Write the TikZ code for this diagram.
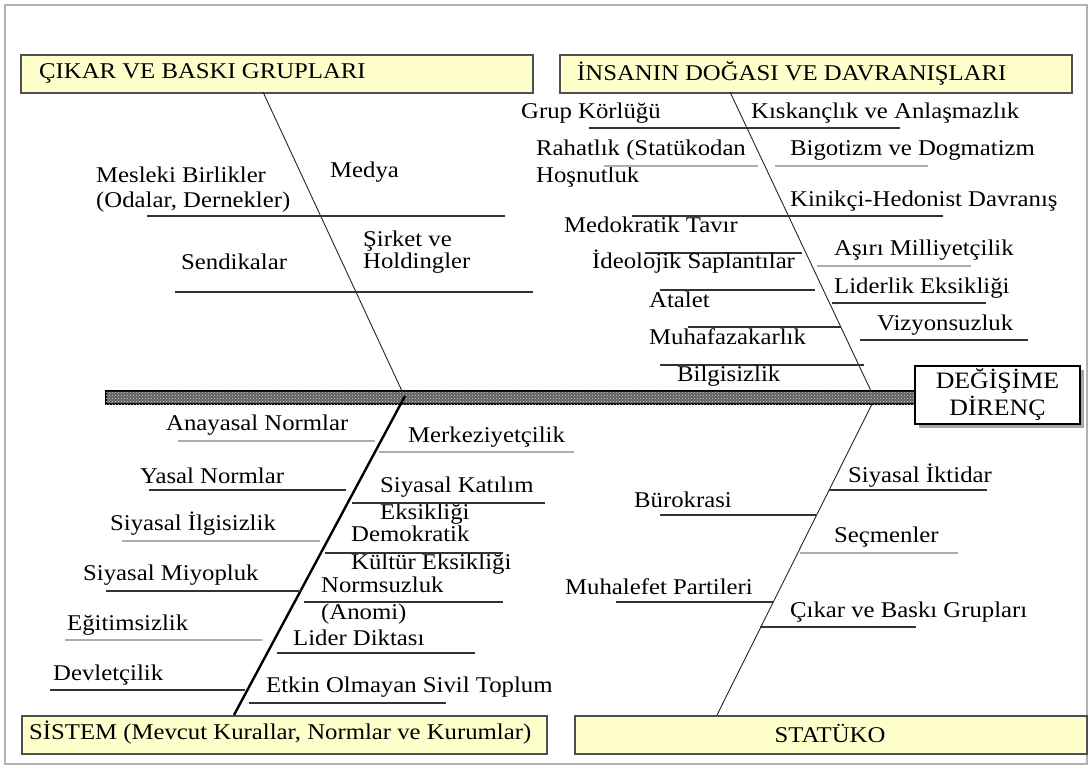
\documentclass[tikz,border=0pt]{standalone}
\usepackage{fontspec}
\setmainfont{Liberation Serif}[FakeStretch=1.1]
\usetikzlibrary{patterns,shadows}
\definecolor{boxfill}{HTML}{FFFFCC}
\definecolor{boxline}{HTML}{505050}
\begin{document}
\begin{tikzpicture}[x=1pt,y=-1pt,
  lbl/.style={anchor=west,inner sep=0pt,font=\fontsize{22.5}{25}\selectfont,align=left,text=black},
  ttl/.style={inner sep=0pt,font=\fontsize{22.5}{26}\selectfont,text=black},
  titlebox/.style={draw=boxline,line width=1.6pt,fill=boxfill,anchor=north west,inner sep=0pt},
  rib/.style={line width=1.1pt,black!80},
  ribg/.style={line width=1.1pt,gray!65},
  bone/.style={line width=0.9pt,black!85},
  thickbone/.style={line width=2.4pt,black},
  spine/.style={draw=black,line width=1.4pt,fill=black!62,postaction={pattern=crosshatch dots,pattern color=gray!35}},
]
\useasboundingbox (0,0) rectangle (1091,766);
\draw[gray!60,line width=1.5pt] (5,5) rectangle (1087,764);

% title boxes
\node[titlebox,minimum width=512pt,minimum height=38pt] (cikar) at (20,54) {};
\node[ttl,anchor=west] (cikarT) at (39,73) {ÇIKAR VE BASKI GRUPLARI};
\node[titlebox,minimum width=512pt,minimum height=38pt] (insan) at (559,54) {};
\node[ttl,anchor=west] (insanT) at (577,73) {İNSANIN DOĞASI VE DAVRANIŞLARI};
\node[titlebox,minimum width=525pt,minimum height=38pt] (sistem) at (21,715) {};
\node[ttl,anchor=west] (sistemT) at (29,733) {SİSTEM (Mevcut Kurallar, Normlar ve Kurumlar)};
\node[titlebox,minimum width=512pt,minimum height=38pt] (statuko) at (574,715) {};
\node[ttl] (statukoT) at (830,733) {STATÜKO};

% spine and head
\draw[spine] (106,391) rectangle (915,404);
\node[draw=black,line width=1.4pt,fill=white,minimum width=165pt,minimum height=58pt,
  inner sep=0pt,align=center,font=\fontsize{23.5}{27}\selectfont,text=black,
  drop shadow={shadow xshift=4pt,shadow yshift=-4pt,fill=gray!70,opacity=1}] (head) at (997.5,395) {DEĞİŞİME\\DİRENÇ};

% bones
\coordinate (b1a) at (263,92);  \coordinate (b1b) at (402,391);
\coordinate (b2a) at (730,92);  \coordinate (b2b) at (871,391);
\coordinate (b3a) at (405,396); \coordinate (b3b) at (234,715);
\coordinate (b4a) at (872,404); \coordinate (b4b) at (717,715);
\draw[bone] (b1a) -- (b1b);
\draw[bone] (b2a) -- (b2b);
\draw[thickbone] (b3a) -- (b3b);
\draw[bone] (b4a) -- (b4b);

% --- ÇIKAR VE BASKI GRUPLARI
\node[lbl] (mesleki) at (96,189.5) {Mesleki Birlikler\\(Odalar, Dernekler)};
\node[lbl] (medya) at (330,172) {Medya};
\draw[rib] (147,216) -- (505,216);
\node[lbl] (sendika) at (181,262) {Sendikalar};
\node[lbl,font=\fontsize{22.5}{22}\selectfont] (sirket) at (363,252) {Şirket ve\\Holdingler};
\draw[rib] (175,292) -- (533,292);

% --- İNSANIN DOĞASI
\node[lbl] (grup) at (521,113) {Grup Körlüğü};
\node[lbl] (kiskanc) at (751,113) {Kıskançlık ve Anlaşmazlık};
\draw[rib] (589,128) -- (900,128);
\node[lbl,font=\fontsize{22.5}{27}\selectfont] (rahat) at (536,163.5) {Rahatlık (Statükodan\\Hoşnutluk};
\node[lbl] (bigot) at (790,150) {Bigotizm ve Dogmatizm};
\draw[ribg] (604,166) -- (758,166);
\draw[ribg] (775,166) -- (928,166);
\node[lbl] (kinik) at (790,201) {Kinikçi-Hedonist Davranış};
\draw[rib] (632,216) -- (943,216);
\node[lbl] (medok) at (564,225) {Medokratik Tavır};
\draw[rib] (645,253) -- (802,253);
\node[lbl] (ideo) at (592,262) {İdeolojik Saplantılar};
\node[lbl] (asiri) at (834,250) {Aşırı Milliyetçilik};
\draw[ribg] (817,266) -- (971,266);
\node[lbl] (lider) at (834,288) {Liderlik Eksikliği};
\draw[rib] (832,303) -- (986,303);
\draw[rib] (660,290) -- (815,290);
\node[lbl] (atalet) at (649,300) {Atalet};
\draw[rib] (688,327) -- (841,327);
\node[lbl] (muhaf) at (649,337) {Muhafazakarlık};
\node[lbl] (vizyon) at (877,325) {Vizyonsuzluk};
\draw[rib] (860,340) -- (1028,340);
\draw[rib] (660,365) -- (864,365);
\node[lbl] (bilgi) at (677,376) {Bilgisizlik};

% --- SİSTEM
\node[lbl] (anayasa) at (166,425) {Anayasal Normlar};
\draw[ribg] (178,441) -- (375,441);
\node[lbl] (merkez) at (408,437) {Merkeziyetçilik};
\draw[ribg] (379,452) -- (574,452);
\node[lbl] (yasal) at (140,476) {Yasal Normlar};
\draw[rib] (149,490) -- (346,490);
\node[lbl,font=\fontsize{22.5}{27}\selectfont] (katilim) at (380,500.5) {Siyasal Katılım\\Eksikliği};
\draw[rib] (352,503) -- (545,503);
\node[lbl] (ilgi) at (110,524) {Siyasal İlgisizlik};
\draw[ribg] (122,541) -- (320,541);
\node[lbl,font=\fontsize{22.5}{28}\selectfont] (demok) at (351,550) {Demokratik\\Kültür Eksikliği};
\draw[rib] (325,553) -- (503,553);
\node[lbl] (miyop) at (83,575) {Siyasal Miyopluk};
\draw[rib] (106,591) -- (302,591);
\node[lbl,font=\fontsize{22.5}{27}\selectfont] (normsuz) at (321,600.5) {Normsuzluk\\(Anomi)};
\draw[rib] (304,602) -- (503,602);
\node[lbl] (egitim) at (67,625) {Eğitimsizlik};
\draw[ribg] (65,640) -- (262,640);
\node[lbl] (diktasi) at (293,638) {Lider Diktası};
\draw[rib] (277,653) -- (475,653);
\node[lbl] (devlet) at (53,675) {Devletçilik};
\draw[rib] (50,690) -- (245,690);
\node[lbl] (etkin) at (266,687) {Etkin Olmayan Sivil Toplum};
\draw[rib] (249,703) -- (446,703);

% --- STATÜKO
\node[lbl] (iktidar) at (848,476) {Siyasal İktidar};
\draw[rib] (829,490) -- (987,490);
\node[lbl] (buro) at (634,500) {Bürokrasi};
\draw[rib] (660,515) -- (816,515);
\node[lbl] (secmen) at (834,537) {Seçmenler};
\draw[ribg] (800,553) -- (958,553);
\node[lbl] (muhalefet) at (565,587) {Muhalefet Partileri};
\draw[rib] (616,602) -- (773,602);
\node[lbl] (cikar2) at (790,612) {Çıkar ve Baskı Grupları};
\draw[rib] (760,627) -- (916,627);
\end{tikzpicture}
\end{document}
